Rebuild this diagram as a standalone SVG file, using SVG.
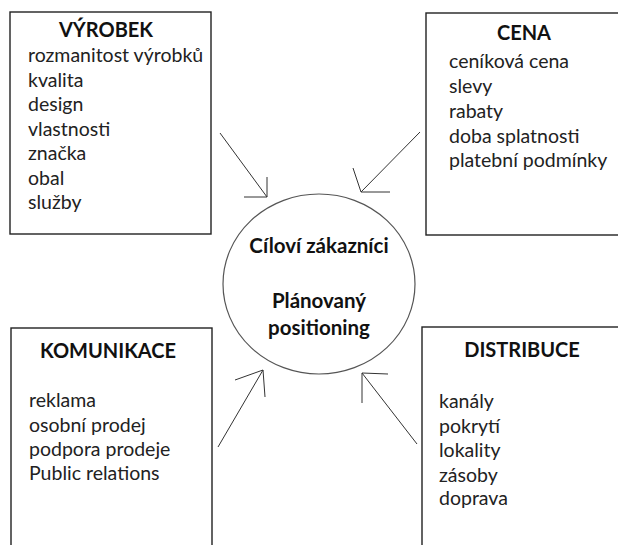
<svg xmlns="http://www.w3.org/2000/svg" width="618" height="545" viewBox="0 0 618 545">
<style>
.box{fill:#fff;stroke:#222;stroke-width:1.4}
.circ{fill:#fff;stroke:#555;stroke-width:1.2}
.t{font-family:Lato,"Liberation Sans",sans-serif;font-weight:bold;font-size:20px;fill:#111;text-anchor:middle}
.m{font-size:20.5px}
.i{font-family:Lato,"Liberation Sans",sans-serif;font-size:19.5px;fill:#222}
.c{stroke:#333;stroke-width:1;fill:none}
</style>
<rect width="618" height="545" fill="#fff"/>
<g id="vyrobek">
<rect class="box" x="10" y="12" width="201" height="222"/>
<text class="t" x="106" y="37">VÝROBEK</text>
<text class="i" x="28" y="62">rozmanitost výrobků</text>
<text class="i" x="28" y="87">kvalita</text>
<text class="i" x="28" y="111">design</text>
<text class="i" x="28" y="136">vlastnosti</text>
<text class="i" x="28" y="160">značka</text>
<text class="i" x="28" y="185">obal</text>
<text class="i" x="28" y="209">služby</text>
</g>
<g id="cena">
<rect class="box" x="426" y="13" width="200" height="222"/>
<text class="t" x="524" y="40">CENA</text>
<text class="i" x="449" y="68">ceníková cena</text>
<text class="i" x="449" y="93">slevy</text>
<text class="i" x="449" y="118">rabaty</text>
<text class="i" x="449" y="143">doba splatnosti</text>
<text class="i" x="449" y="167">platební podmínky</text>
</g>
<g id="komunikace">
<rect class="box" x="11" y="328" width="201" height="230"/>
<text class="t" x="108" y="358">KOMUNIKACE</text>
<text class="i" x="29" y="407">reklama</text>
<text class="i" x="29" y="432">osobní prodej</text>
<text class="i" x="29" y="456">podpora prodeje</text>
<text class="i" x="29" y="480">Public relations</text>
</g>
<g id="distribuce">
<rect class="box" x="422" y="327" width="210" height="230"/>
<text class="t" x="522" y="357">DISTRIBUCE</text>
<text class="i" x="439" y="408">kanály</text>
<text class="i" x="439" y="433">pokrytí</text>
<text class="i" x="439" y="457">lokality</text>
<text class="i" x="439" y="482">zásoby</text>
<text class="i" x="439" y="505">doprava</text>
</g>
<g id="center">
<ellipse class="circ" cx="319" cy="284" rx="96" ry="90"/>
<text class="t m" x="319" y="253">Cíloví zákazníci</text>
<text class="t m" x="319" y="308">Plánovaný</text>
<text class="t m" x="319" y="335">positioning</text>
</g>
<g id="connectors">
<path class="c" d="M220,133 L267,197 M244,197 L267,197 L267,177"/>
<path class="c" d="M420,132 L361,192 M353,168 L361,192 L390,192"/>
<path class="c" d="M218,447 L263,370 M235,380 L263,370 L265,397"/>
<path class="c" d="M417,444 L362,373 M388,374 L362,373 L362,403"/>
</g>
</svg>
